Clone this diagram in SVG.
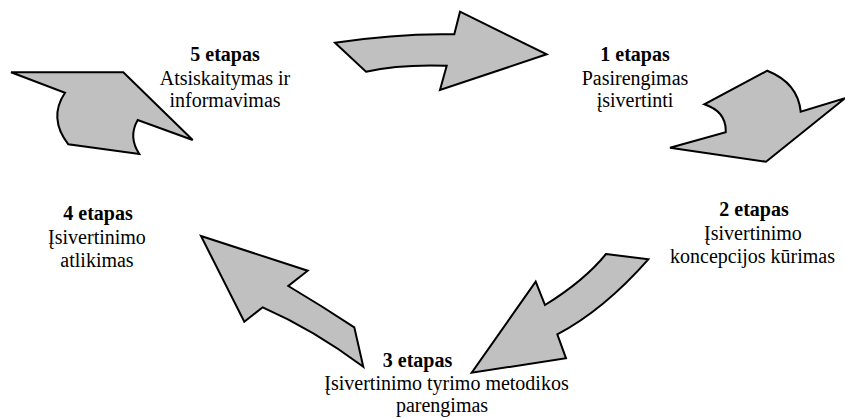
<svg xmlns="http://www.w3.org/2000/svg" width="845" height="418" viewBox="0 0 845 418">
<style>
.arr{fill:#c0c0c0;stroke:#000;stroke-width:2;stroke-linejoin:miter}
text{font-family:"Liberation Serif","Times New Roman",serif;font-size:20px;fill:#000;text-anchor:middle}
.b{font-weight:bold}
</style>
<rect width="845" height="418" fill="#fff"/>
<g id="connectors">
<path id="arrow1" class="arr" d="M335,42.7 L366,71.7 Q400,64 446.7,65.7 L440,90 L546.7,54.3 L460,11.7 L454.3,34.3 Q400,33 335,42.7 Z"/>
<path id="arrow2" class="arr" d="M767.3,70.7 Q798,83 800.7,111.7 L845,98.3 L766,161.7 L670,147.7 L725.7,132.3 Q726.7,111.7 704.3,104.3 Z"/>
<path id="arrow3" class="arr" d="M606,254 L648.3,259.3 Q603.8,309.8 557.3,334.3 L566,358.3 L471.7,372.7 L535.7,281.7 L545,305 Q584.5,280.5 606,254 Z"/>
<path id="arrow4" class="arr" d="M201,236 L307.7,270.7 L288.3,286 Q323,306.7 354.3,327.3 L363.3,366.7 Q313.6,329.6 262.7,307.3 L244.3,321.7 Z"/>
<path id="arrow5" class="arr" d="M11,72.3 L123.3,72.3 L192.7,140 L137.7,120 Q128,137 139.3,154 L68.3,144.3 Q48,118 65,92.7 Z"/>
</g>
<g id="stage1">
<text x="635" y="61" class="b">1 etapas</text>
<text x="635" y="84.5">Pasirengimas</text>
<text x="635" y="107">įsivertinti</text>
</g>
<g id="stage2">
<text x="754" y="216" class="b">2 etapas</text>
<text x="753" y="240">Įsivertinimo</text>
<text x="752.5" y="263">koncepcijos kūrimas</text>
</g>
<g id="stage3">
<text x="417.5" y="366.5" class="b">3 etapas</text>
<text x="446.5" y="390">Įsivertinimo tyrimo metodikos</text>
<text x="442" y="411.5">parengimas</text>
</g>
<g id="stage4">
<text x="98" y="220" class="b">4 etapas</text>
<text x="97" y="244">Įsivertinimo</text>
<text x="97" y="267">atlikimas</text>
</g>
<g id="stage5">
<text x="225" y="61" class="b">5 etapas</text>
<text x="225" y="84.5">Atsiskaitymas ir</text>
<text x="225" y="107">informavimas</text>
</g>
</svg>
